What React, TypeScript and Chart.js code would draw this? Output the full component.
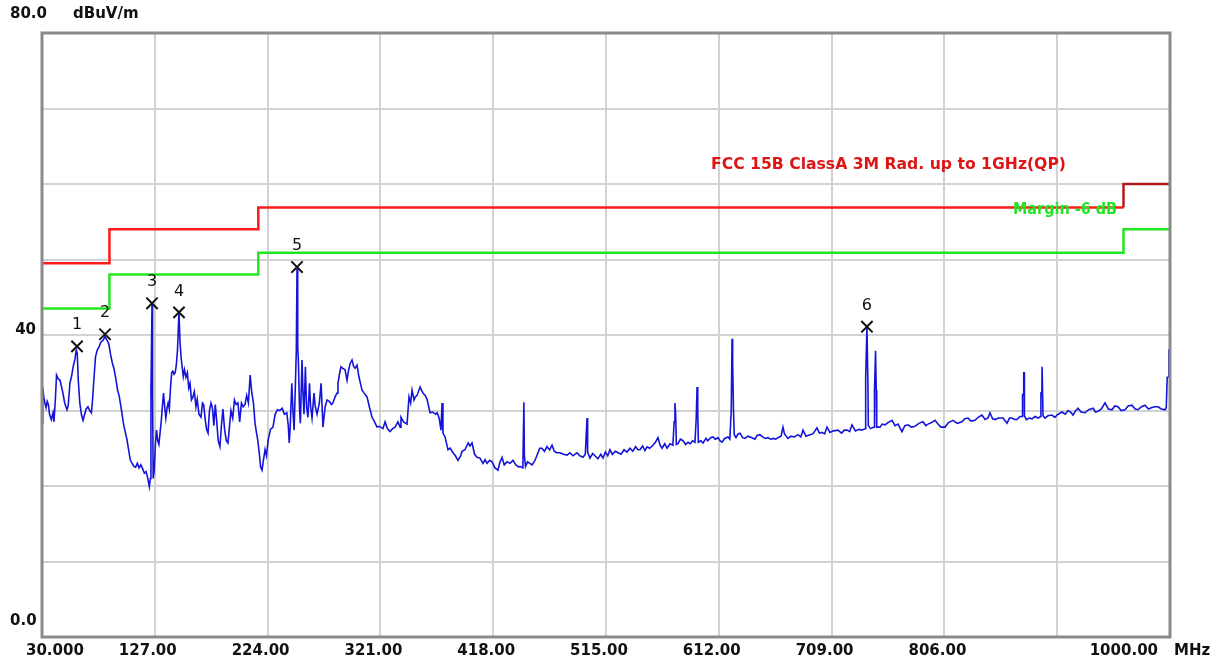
import React, { useEffect, useRef } from "react";
import { Chart, registerables } from "chart.js";

Chart.register(...registerables);

// ---------- data ----------
const xTicks = [30, 127, 224, 321, 418, 515, 612, 709, 806, 903, 1000];
const xTickLabels = ["30.000", "127.00", "224.00", "321.00", "418.00", "515.00", "612.00", "709.00", "806.00", "", "1000.00"];
const yTickValues = [80, 40, 0];
const yTickLabels = ["80.0", "40", "0.0"];
const yUnit = "dBuV/m";
const xUnit = "MHz";

const limitFreq = [30, 88, 88, 216, 216, 960, 960, 1000];
const limitLevel = [49.5, 49.5, 54, 54, 56.9, 56.9, 60, 60];
const marginLevel = [43.5, 43.5, 48, 48, 50.9, 50.9, 54, 54];
const limitName = "FCC 15B ClassA 3M Rad. up to 1GHz(QP)";
const marginName = "Margin -6 dB";

const markerFreq = [60.1, 84.2, 124.6, 147.8, 249.3, 739.4];
const markerLevel = [38.5, 40.1, 44.2, 43.0, 49.0, 41.1];
const markerLabel = ["1", "2", "3", "4", "5", "6"];

// measured trace [MHz, dBuV/m]
const trace: [number, number][] = [
  [30.0, 28.3], [30.6, 33.1], [31.5, 31.8], [32.5, 31.0], [33.5, 30.4], [34.5, 31.2], [35.5, 30.8], [36.5, 29.5],
  [38.0, 28.8], [39.5, 29.7], [40.3, 28.5], [41.5, 31.5], [42.5, 34.7], [44.0, 34.2], [45.5, 34.0], [47.0, 33.0],
  [48.0, 32.3], [49.5, 31.0], [51.5, 30.1], [52.5, 30.6], [54.0, 33.6], [55.5, 34.6], [56.8, 35.8], [58.3, 36.8],
  [59.5, 38.0], [60.3, 37.6], [61.2, 34.0], [62.5, 31.0], [64.0, 29.4], [65.3, 28.7], [66.5, 29.4], [68.0, 30.2],
  [69.5, 30.5], [71.0, 30.0], [72.5, 29.7], [73.5, 31.5], [74.8, 34.5], [76.0, 37.1], [77.5, 38.0], [79.0, 38.4],
  [80.5, 39.0], [82.5, 39.3], [84.2, 39.8], [86.0, 39.3], [87.5, 38.8], [89.0, 37.4], [90.5, 36.3], [91.8, 35.6],
  [93.5, 34.2], [95.0, 32.7], [96.5, 31.8], [98.0, 30.4], [100.0, 28.3], [101.5, 27.2], [103.0, 26.2], [104.5, 24.8],
  [106.0, 23.4], [107.5, 23.0], [109.0, 22.6], [110.5, 22.5], [112.0, 23.0], [113.5, 22.4], [115.0, 22.8], [116.5, 22.3],
  [118.0, 21.7], [119.5, 21.9], [121.0, 21.0], [122.3, 19.9], [123.2, 21.0], [123.7, 32.7], [124.6, 44.0], [125.1, 32.0],
  [125.6, 21.0], [126.5, 22.0], [127.5, 25.5], [128.5, 27.4], [129.5, 26.0], [130.5, 25.5], [131.5, 27.0], [132.5, 28.5],
  [133.5, 30.5], [134.5, 32.3], [135.5, 30.5], [136.5, 29.0], [137.5, 30.3], [138.5, 31.0], [139.5, 30.2], [140.5, 33.0],
  [141.5, 35.0], [142.5, 35.2], [143.5, 34.8], [144.5, 35.0], [145.5, 36.0], [146.5, 38.0], [147.8, 43.0], [148.6, 39.3],
  [149.5, 37.2], [150.5, 35.8], [151.5, 34.5], [152.5, 35.4], [153.8, 34.4], [155.0, 35.0], [156.2, 33.0], [157.3, 33.6],
  [158.5, 31.4], [159.8, 31.8], [161.0, 32.5], [162.4, 30.5], [163.5, 31.5], [165.0, 29.5], [166.7, 29.1], [168.0, 31.0],
  [169.0, 30.8], [170.2, 29.0], [171.5, 27.5], [172.8, 27.0], [174.0, 30.0], [175.3, 31.0], [176.5, 30.4], [177.8, 28.0],
  [179.0, 30.8], [180.3, 28.5], [181.5, 26.0], [183.0, 25.2], [184.3, 28.0], [185.6, 30.2], [187.0, 27.5], [188.5, 26.0],
  [189.9, 25.7], [191.0, 27.5], [192.5, 30.0], [194.0, 29.0], [195.5, 31.4], [197.0, 30.8], [198.5, 31.0], [200.0, 28.5],
  [201.5, 31.0], [203.0, 30.5], [204.6, 30.8], [206.0, 32.0], [207.5, 31.0], [209.0, 34.7], [210.3, 32.5], [211.8, 31.0],
  [213.2, 28.3], [214.5, 27.0], [215.5, 26.1], [216.8, 24.4], [218.0, 22.5], [219.2, 22.1], [220.5, 23.5], [221.8, 24.8],
  [223.0, 24.0], [224.5, 26.1], [226.5, 27.5], [228.6, 27.8], [230.5, 29.5], [232.5, 30.1], [234.5, 30.0], [236.5, 30.3],
  [238.5, 29.5], [240.5, 29.7], [241.8, 28.0], [242.6, 25.7], [243.5, 28.0], [244.8, 33.6], [245.8, 30.0], [246.8, 27.4],
  [248.0, 34.0], [248.7, 38.0], [249.3, 48.8], [249.9, 38.5], [250.5, 36.5], [251.5, 30.0], [252.2, 28.3], [253.6, 36.7],
  [254.5, 32.0], [255.3, 29.5], [256.5, 35.8], [257.5, 30.5], [258.7, 29.1], [260.0, 33.6], [261.0, 30.5], [262.2, 29.0],
  [263.9, 32.3], [265.0, 30.5], [266.5, 29.5], [268.5, 31.0], [270.0, 33.6], [271.6, 27.8], [273.5, 30.5], [275.1, 31.4],
  [277.0, 31.2], [279.0, 30.8], [280.2, 31.0], [282.0, 31.8], [283.7, 32.3], [284.5, 33.6], [286.0, 35.0], [287.1, 35.8],
  [288.5, 35.6], [290.6, 35.4], [292.3, 34.0], [293.5, 35.2], [294.9, 36.2], [296.6, 36.7], [298.0, 35.8], [299.2, 35.6],
  [300.9, 36.0], [302.5, 34.5], [304.0, 33.5], [305.2, 32.7], [307.0, 32.3], [309.5, 31.8], [311.5, 30.5], [313.8, 29.1],
  [316.0, 28.5], [318.1, 27.8], [320.0, 27.9], [323.2, 27.6], [325.0, 28.5], [327.0, 27.6], [329.3, 27.2], [331.5, 27.6],
  [333.6, 27.8], [336.1, 28.5], [338.0, 27.8], [338.7, 29.1], [341.0, 28.5], [343.9, 28.2], [345.6, 31.8], [347.0, 31.0],
  [348.2, 32.7], [349.9, 31.4], [351.0, 31.8], [352.5, 32.0], [355.1, 33.1], [357.6, 32.3], [359.5, 32.0], [361.1, 31.5],
  [363.7, 29.7], [366.0, 29.8], [368.5, 29.5], [369.7, 29.7], [371.5, 29.0], [373.1, 27.4], [374.0, 31.0], [374.8, 27.0],
  [376.6, 26.5], [379.1, 24.8], [381.0, 25.0], [383.4, 24.4], [385.5, 24.0], [387.7, 23.4], [390.0, 24.0], [391.2, 24.6],
  [393.7, 24.8], [396.5, 25.7], [398.0, 25.3], [399.8, 25.7], [402.0, 24.2], [404.1, 23.8], [406.6, 23.7], [409.2, 23.0],
  [411.0, 23.5], [412.7, 23.0], [415.0, 23.4], [417.0, 23.2], [419.5, 22.4], [422.1, 22.1], [423.5, 23.0], [425.6, 23.8],
  [427.5, 22.8], [429.9, 23.2], [432.5, 23.0], [435.0, 23.4], [437.5, 22.8], [440.0, 22.5], [441.1, 22.6], [443.5, 22.4],
  [444.4, 31.1], [444.8, 24.0], [445.8, 22.6], [447.5, 23.2], [449.6, 23.0], [451.5, 22.8], [453.9, 23.4], [455.0, 23.8],
  [456.5, 24.4], [458.0, 25.0], [459.9, 25.0], [462.0, 24.6], [464.2, 25.2], [466.5, 24.8], [468.6, 25.4], [470.5, 24.6],
  [472.5, 24.4], [475.4, 24.4], [478.5, 24.2], [481.5, 24.1], [484.0, 24.4], [486.5, 24.0], [490.1, 24.4], [492.5, 24.0],
  [495.2, 23.8], [497.2, 24.2], [498.7, 29.0], [499.2, 24.5], [501.2, 23.7], [503.5, 24.3], [505.5, 24.0], [508.0, 23.6],
  [510.5, 24.2], [512.4, 23.7], [514.5, 24.5], [516.5, 24.0], [518.4, 24.8], [520.5, 24.2], [523.0, 24.6], [525.5, 24.4],
  [528.0, 24.2], [530.5, 24.8], [533.0, 24.5], [535.6, 25.0], [538.0, 24.6], [540.5, 25.2], [542.5, 24.8], [544.2, 24.8],
  [546.5, 25.3], [548.5, 24.7], [550.3, 25.2], [552.5, 25.0], [555.4, 25.4], [557.5, 25.8], [559.7, 26.4], [561.5, 25.4],
  [563.2, 25.0], [565.5, 25.6], [567.5, 25.0], [570.0, 25.6], [572.5, 25.4], [573.6, 28.5], [574.3, 31.0], [574.9, 29.5],
  [575.5, 25.5], [576.9, 25.6], [579.0, 26.2], [581.2, 26.0], [583.5, 25.5], [585.5, 25.8], [587.5, 25.6], [589.5, 26.0],
  [591.5, 25.8], [592.6, 29.0], [593.3, 33.1], [593.9, 30.0], [594.4, 25.8], [596.5, 26.0], [598.5, 25.7], [601.0, 26.3],
  [602.5, 26.0], [605.0, 26.4], [607.0, 26.5], [609.0, 26.2], [611.3, 26.4], [613.0, 26.0], [614.8, 25.8], [617.0, 26.3],
  [619.9, 26.5], [621.5, 26.2], [622.7, 30.0], [623.4, 39.5], [623.9, 36.3], [624.6, 30.1], [625.3, 26.8], [626.8, 26.4],
  [628.5, 26.9], [630.2, 27.0], [632.5, 26.4], [634.5, 26.3], [637.0, 26.6], [640.5, 26.4], [643.0, 26.2], [645.0, 26.7],
  [647.4, 26.8], [649.5, 26.5], [652.0, 26.3], [654.3, 26.4], [656.5, 26.2], [659.0, 26.3], [661.0, 26.2], [662.9, 26.4],
  [665.5, 26.6], [667.2, 27.8], [668.5, 26.9], [671.5, 26.3], [674.0, 26.6], [677.0, 26.5], [680.1, 26.8], [682.5, 26.5],
  [684.4, 27.4], [687.0, 26.6], [690.4, 26.8], [693.0, 26.9], [696.4, 27.7], [698.5, 27.0], [700.7, 27.1], [703.0, 26.9],
  [705.0, 27.8], [707.6, 27.1], [710.5, 27.3], [714.5, 27.4], [717.5, 27.0], [720.0, 27.4], [722.3, 27.4], [724.5, 27.2],
  [726.5, 28.1], [729.5, 27.3], [732.5, 27.5], [735.1, 27.4], [738.0, 27.6], [738.3, 34.3], [739.4, 41.0], [740.2, 33.8],
  [740.6, 28.0], [742.5, 27.6], [745.6, 27.8], [745.9, 32.7], [746.8, 37.9], [747.4, 32.7], [747.8, 27.8], [750.6, 27.8],
  [752.5, 28.2], [754.9, 28.1], [757.5, 28.4], [761.0, 28.7], [763.5, 28.0], [766.1, 28.2], [769.5, 27.2], [772.0, 28.0],
  [774.7, 28.1], [777.5, 27.8], [780.7, 27.9], [784.0, 28.3], [787.6, 28.5], [790.0, 28.0], [791.9, 28.2], [795.0, 28.4],
  [797.9, 28.7], [800.5, 28.2], [803.0, 27.8], [806.5, 27.8], [809.5, 28.4], [813.4, 28.7], [817.0, 28.3], [821.1, 28.5],
  [823.5, 28.9], [826.3, 29.0], [829.0, 28.6], [832.3, 28.7], [835.0, 29.1], [838.3, 29.4], [841.0, 28.8], [843.5, 29.0],
  [845.2, 29.7], [847.5, 28.9], [849.5, 28.8], [852.5, 29.0], [856.4, 29.0], [859.8, 28.3], [862.0, 29.0], [864.1, 29.0],
  [866.5, 28.8], [868.4, 28.8], [871.0, 29.2], [873.0, 29.2], [873.2, 32.1], [874.0, 32.1], [874.2, 35.0], [874.6, 35.0],
  [874.8, 29.3], [876.5, 28.8], [879.0, 29.0], [881.3, 28.9], [884.0, 29.2], [886.5, 29.0], [888.8, 29.2], [889.0, 32.3],
  [889.8, 32.3], [890.0, 35.8], [890.6, 35.8], [890.8, 29.3], [892.5, 29.0], [895.0, 29.3], [898.5, 29.4], [901.0, 29.1],
  [902.8, 29.4], [905.0, 29.6], [907.1, 29.8], [910.0, 29.5], [912.3, 30.0], [914.5, 29.8], [916.6, 29.4], [918.5, 29.9],
  [920.9, 30.3], [923.5, 29.8], [926.9, 29.7], [930.0, 30.1], [933.8, 30.3], [936.0, 29.8], [938.1, 29.9], [941.0, 30.2],
  [944.1, 31.0], [947.0, 30.2], [950.1, 30.1], [952.5, 30.6], [955.3, 30.5], [958.0, 30.0], [961.3, 30.1], [964.0, 30.6],
  [967.3, 30.7], [970.0, 30.2], [972.5, 30.1], [975.5, 30.5], [978.5, 30.7], [981.5, 30.2], [984.5, 30.4], [987.0, 30.5],
  [989.7, 30.5], [992.5, 30.2], [995.7, 30.1], [996.8, 30.4], [997.6, 34.4], [998.5, 34.4], [999.0, 38.0], [1000.0, 38.0],
];

// ---------- styling ----------
const TRACE_COLOR = "#1414d8";
const LIMIT_COLOR = "#ff1a1a";
const LIMIT_COLOR_HI = "#b01c1c";
const MARGIN_COLOR = "#22e622";
const GRID_COLOR = "#d2d2d2";
const FRAME_COLOR = "#8a8a8a";
const TEXT_FONT = '"DejaVu Sans", "Liberation Sans", Arial, sans-serif';

function fitText(ctx: CanvasRenderingContext2D, text: string, x: number, y: number, w: number) {
  const m = ctx.measureText(text).width;
  ctx.save();
  ctx.translate(x, y);
  ctx.scale(w / m, 1);
  ctx.textAlign = "left";
  ctx.fillText(text, 0, 0);
  ctx.restore();
}

const overlayPlugin = {
  id: "overlay",
  afterDraw(chart: any) {
    const { ctx, chartArea } = chart;
    const xs = chart.scales.x;
    const ys = chart.scales.y;
    ctx.save();
    // frame
    ctx.strokeStyle = FRAME_COLOR;
    ctx.lineWidth = 3;
    ctx.strokeRect(chartArea.left, chartArea.top, chartArea.right - chartArea.left, chartArea.bottom - chartArea.top);

    // y labels
    ctx.fillStyle = "#111";
    ctx.textBaseline = "middle";
    ctx.font = `bold 15px ${TEXT_FONT}`;
    yTickValues.forEach((v, i) => {
      const py = ys.getPixelForValue(v);
      const t = yTickLabels[i];
      if (v === ys.max) {
        ctx.textAlign = "left";
        ctx.fillText(t, 10, py - 19);
      } else if (v === ys.min) {
        ctx.textAlign = "left";
        ctx.fillText(t, 10, py - 16);
      } else {
        ctx.textAlign = "right";
        ctx.fillText(t, 36, py - 5);
      }
    });
    ctx.textAlign = "left";
    ctx.fillText(yUnit, 73, ys.getPixelForValue(ys.max) - 19);

    // x labels
    const ly = chartArea.bottom + 14;
    xTicks.forEach((v, i) => {
      const t = xTickLabels[i];
      if (!t) return;
      const px = xs.getPixelForValue(v);
      if (i === 0) {
        ctx.textAlign = "left";
        ctx.fillText(t, px - 16, ly);
      } else if (i === xTicks.length - 1) {
        ctx.textAlign = "right";
        ctx.fillText(t, px - 12, ly);
      } else {
        ctx.textAlign = "center";
        ctx.fillText(t, px - 7, ly);
      }
    });
    ctx.textAlign = "left";
    ctx.fillText(xUnit, chartArea.right + 4, ly);

    // marker labels
    ctx.font = `16px ${TEXT_FONT}`;
    ctx.textAlign = "center";
    ctx.textBaseline = "middle";
    ctx.fillStyle = "#111";
    markerFreq.forEach((f, i) => {
      ctx.fillText(markerLabel[i], xs.getPixelForValue(f), ys.getPixelForValue(markerLevel[i]) - 21);
    });

    // limit labels
    ctx.font = `bold 15px ${TEXT_FONT}`;
    ctx.textBaseline = "middle";
    ctx.fillStyle = "#dd1515";
    fitText(ctx, limitName, 711, 165, 355);
    ctx.fillStyle = MARGIN_COLOR;
    fitText(ctx, marginName, 1013, 210, 104);
    ctx.restore();
  },
};

export default function App() {
  const ref = useRef<HTMLCanvasElement | null>(null);

  useEffect(() => {
    if (!ref.current) return;
    const chart = new Chart(ref.current, {
      type: "line",
      data: {
        datasets: [
          {
            label: "markers",
            type: "scatter" as any,
            data: markerFreq.map((f, i) => ({ x: f, y: markerLevel[i] })),
            pointStyle: "crossRot",
            pointRadius: 8,
            pointBorderWidth: 2,
            pointBorderColor: "#111",
            pointBackgroundColor: "#111",
            showLine: false,
            order: 0,
          } as any,
          {
            label: "limit",
            data: limitFreq.map((f, i) => ({ x: f, y: limitLevel[i] })),
            borderColor: LIMIT_COLOR,
            borderWidth: 2.5,
            pointRadius: 0,
            tension: 0,
            segment: {
              borderColor: (c: any) => (c.p0.parsed.x >= 959 ? LIMIT_COLOR_HI : LIMIT_COLOR),
            },
            order: 1,
          } as any,
          {
            label: "margin",
            data: limitFreq.map((f, i) => ({ x: f, y: marginLevel[i] })),
            borderColor: MARGIN_COLOR,
            borderWidth: 2.5,
            pointRadius: 0,
            tension: 0,
            order: 2,
          } as any,
          {
            label: "trace",
            data: trace.map(([f, v]) => ({ x: f, y: v })),
            borderColor: TRACE_COLOR,
            borderWidth: 1.6,
            pointRadius: 0,
            tension: 0,
            order: 3,
          } as any,
        ],
      },
      options: {
        responsive: false,
        animation: false,
        devicePixelRatio: 1,
        layout: { padding: { left: 42, top: 33, right: 46, bottom: 27 } },
        plugins: { legend: { display: false }, tooltip: { enabled: false } },
        scales: {
          x: {
            type: "linear",
            min: 30,
            max: 1000,
            ticks: { display: false },
            grid: { color: GRID_COLOR, lineWidth: 2, drawTicks: false },
            border: { display: false },
            afterBuildTicks: (s: any) => {
              s.ticks = xTicks.map((v) => ({ value: v }));
            },
          },
          y: {
            type: "linear",
            min: 0,
            max: 80,
            ticks: { display: false, stepSize: 10 },
            grid: { color: GRID_COLOR, lineWidth: 2, drawTicks: false },
            border: { display: false },
          },
        },
      } as any,
      plugins: [overlayPlugin],
    });
    return () => chart.destroy();
  }, []);

  return (
    <div style={{ position: "fixed", left: 0, top: 0, width: 1216, height: 664, background: "#fff" }}>
      <canvas ref={ref} width={1216} height={664} style={{ display: "block" }} />
    </div>
  );
}
